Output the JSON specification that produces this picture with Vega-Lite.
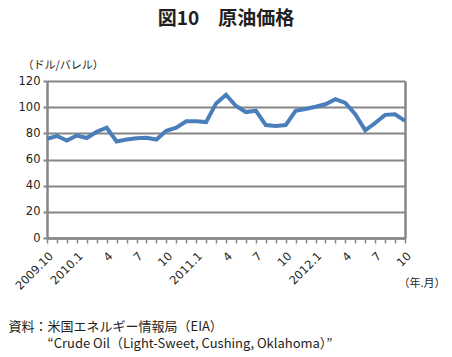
{
  "$schema": "https://vega.github.io/schema/vega-lite/v6.json",
  "width": 358,
  "height": 157,
  "autosize": {"type": "none"},
  "padding": {"left": 47, "top": 81, "right": 47, "bottom": 119},
  "background": "white",
  "title": {
    "text": "図10　原油価格",
    "font": "Noto Sans CJK JP",
    "fontSize": 19,
    "fontWeight": "bold",
    "color": "#231f20",
    "anchor": "middle",
    "frame": "group",
    "offset": 30
  },
  "data": {
    "values": [
      {"ym": "2009.10", "price": 75.72},
      {"ym": "2009.11", "price": 77.99},
      {"ym": "2009.12", "price": 74.47},
      {"ym": "2010.1", "price": 78.33},
      {"ym": "2010.2", "price": 76.39},
      {"ym": "2010.3", "price": 81.2},
      {"ym": "2010.4", "price": 84.29},
      {"ym": "2010.5", "price": 73.74},
      {"ym": "2010.6", "price": 75.34},
      {"ym": "2010.7", "price": 76.32},
      {"ym": "2010.8", "price": 76.6},
      {"ym": "2010.9", "price": 75.24},
      {"ym": "2010.10", "price": 81.89},
      {"ym": "2010.11", "price": 84.25},
      {"ym": "2010.12", "price": 89.15},
      {"ym": "2011.1", "price": 89.17},
      {"ym": "2011.2", "price": 88.58},
      {"ym": "2011.3", "price": 102.86},
      {"ym": "2011.4", "price": 109.53},
      {"ym": "2011.5", "price": 100.9},
      {"ym": "2011.6", "price": 96.26},
      {"ym": "2011.7", "price": 97.3},
      {"ym": "2011.8", "price": 86.33},
      {"ym": "2011.9", "price": 85.52},
      {"ym": "2011.10", "price": 86.32},
      {"ym": "2011.11", "price": 97.16},
      {"ym": "2011.12", "price": 98.56},
      {"ym": "2012.1", "price": 100.27},
      {"ym": "2012.2", "price": 102.2},
      {"ym": "2012.3", "price": 106.16},
      {"ym": "2012.4", "price": 103.32},
      {"ym": "2012.5", "price": 94.66},
      {"ym": "2012.6", "price": 82.3},
      {"ym": "2012.7", "price": 87.9},
      {"ym": "2012.8", "price": 94.13},
      {"ym": "2012.9", "price": 94.51},
      {"ym": "2012.10", "price": 89.49}
    ]
  },
  "layer": [
    {
      "mark": {"type": "line", "color": "#4a7ebb", "strokeWidth": 4},
      "encoding": {
        "x": {
          "field": "ym", "type": "ordinal", "sort": null,
          "scale": {"type": "point", "padding": 0},
          "axis": {
            "domainColor": "#868686", "domainWidth": 2.5,
            "tickColor": "#868686", "tickSize": 5, "tickWidth": 1.5,
            "labelAngle": -45, "labelAlign": "right", "labelBaseline": "top",
            "labelPadding": 7, "labelFont": "DejaVu Sans", "labelFontSize": 11.5,
            "labelColor": "#231f20", "labelOverlap": false,
            "labelExpr": "(datum.value == '2009.10' || split(datum.value, '.')[1] == '1') ? datum.value : ((split(datum.value, '.')[1] == '4' || split(datum.value, '.')[1] == '7' || split(datum.value, '.')[1] == '10') ? split(datum.value, '.')[1] : '')",
            "title": "（年.月）",
            "titleAngle": 0, "titleAlign": "right", "titleBaseline": "middle",
            "titleX": 398, "titleY": 45,
            "titleFont": "Noto Sans CJK JP", "titleFontSize": 11, "titleFontWeight": "normal",
            "titleColor": "#231f20"
          }
        },
        "y": {
          "field": "price", "type": "quantitative",
          "scale": {"domain": [0, 120], "nice": false},
          "axis": {
            "values": [0, 20, 40, 60, 80, 100, 120],
            "grid": true, "gridColor": "#868686", "gridWidth": 2,
            "domainColor": "#868686", "domainWidth": 2.5,
            "tickColor": "#868686", "tickSize": 4, "tickWidth": 2,
            "labelPadding": 3, "labelFont": "DejaVu Sans", "labelFontSize": 11.5,
            "labelColor": "#231f20",
            "title": "（ドル/バレル）",
            "titleAngle": 0, "titleAlign": "left", "titleBaseline": "middle",
            "titleX": -25, "titleY": -16,
            "titleFont": "Noto Sans CJK JP", "titleFontSize": 11, "titleFontWeight": "normal",
            "titleColor": "#231f20"
          }
        }
      }
    },
    {
      "mark": {"type": "line", "opacity": 0},
      "encoding": {
        "x": {
          "field": "ym", "type": "ordinal", "sort": null,
          "scale": {"type": "point", "padding": 0},
          "axis": {
            "orient": "top",
            "domain": false, "ticks": false, "labels": false, "grid": false,
            "title": "“Crude Oil（Light-Sweet, Cushing, Oklahoma）”",
            "titleAngle": 0, "titleAlign": "left", "titleBaseline": "middle",
            "titleX": 0, "titleY": 262,
            "titleFont": "Noto Sans CJK JP", "titleFontSize": 13, "titleFontWeight": "normal",
            "titleColor": "#231f20"
          }
        },
        "y": {
          "field": "price", "type": "quantitative",
          "scale": {"domain": [0, 120], "nice": false},
          "axis": {
            "orient": "right",
            "grid": false, "labels": false, "ticks": false,
            "domainColor": "#868686", "domainWidth": 2.5,
            "title": "資料：米国エネルギー情報局（EIA）",
            "titleAngle": 0, "titleAlign": "left", "titleBaseline": "middle",
            "titleX": -397, "titleY": 245,
            "titleFont": "Noto Sans CJK JP", "titleFontSize": 13, "titleFontWeight": "normal",
            "titleColor": "#231f20"
          }
        }
      }
    }
  ],
  "resolve": {"scale": {"y": "independent"}, "axis": {"x": "independent", "y": "independent"}},
  "config": {"view": {"stroke": null}}
}
